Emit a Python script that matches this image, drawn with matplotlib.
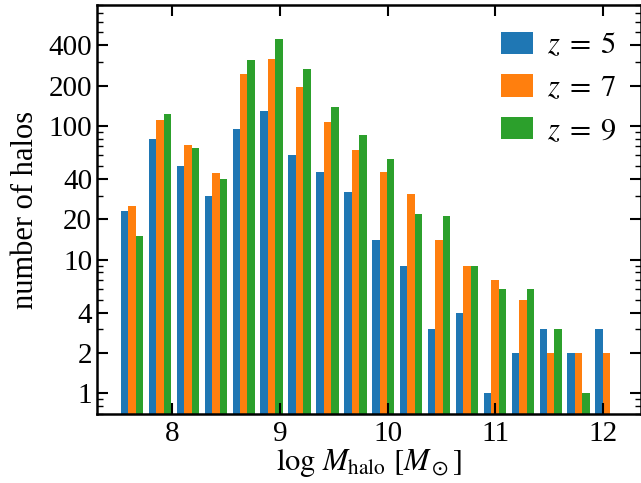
import matplotlib
matplotlib.use("Agg")
import matplotlib.pyplot as plt
import numpy as np
from matplotlib.ticker import FixedLocator, LogLocator, NullFormatter

plt.rcParams['font.family'] = ['Liberation Serif', 'DejaVu Serif']
plt.rcParams['mathtext.fontset'] = 'stix'

# bin edges in log halo mass, counts per bin for each redshift
bin_edges = np.linspace(7.5, 12.16, 19)
counts_z5 = [23, 80, 50, 30, 94, 128, 60, 45, 32, 14, 9, 3, 4, 1, 2, 3, 2, 3]
counts_z7 = [25, 110, 72, 44, 243, 315, 194, 106, 66, 45, 31, 14, 9, 7, 5, 2, 2, 2]
counts_z9 = [15, 122, 68, 40, 309, 444, 264, 137, 86, 56, 22, 21, 9, 6, 6, 3, 1, 0]
labels = [r'$z\;=\;5$', r'$z\;=\;7$', r'$z\;=\;9$']
colors = ['#1f77b4', '#ff7f0e', '#2ca02c']
yticks = [1, 2, 4, 10, 20, 40, 100, 200, 400]

centers = 0.5 * (bin_edges[:-1] + bin_edges[1:])

fig = plt.figure(figsize=(6.41, 4.83), dpi=100)
ax = fig.add_axes([0.1513, 0.1429, 0.8487, 0.8468])

ax.hist([centers, centers, centers], bins=bin_edges,
        weights=[counts_z5, counts_z7, counts_z9],
        color=colors, label=labels, log=True)

ax.set_xlim(7.304, 12.35)
ax.set_ylim(0.7, 800)
ax.set_yscale('log')
ax.yaxis.set_major_locator(FixedLocator(yticks))
ax.set_yticklabels([str(t) for t in yticks])
ax.yaxis.set_minor_locator(LogLocator(base=10, subs=np.arange(1, 10)))
ax.yaxis.set_minor_formatter(NullFormatter())
ax.set_xticks([8, 9, 10, 11, 12])

ax.tick_params(which='both', direction='in', top=True, right=True, labelsize=21)
ax.tick_params(which='major', length=8, width=1.5)
ax.tick_params(which='minor', length=4, width=1.0)
ax.tick_params(axis='x', which='minor', bottom=False, top=False)
ax.tick_params(axis='x', pad=5)
for s in ax.spines.values():
    s.set_linewidth(1.8)

ax.set_xlabel(r'$\log\,M_{\rm halo}\ [M_\odot]$', fontsize=22, labelpad=0)
ax.set_ylabel('number of halos', fontsize=22, labelpad=6)

ax.legend(loc='upper right', frameon=False, fontsize=22,
          handlelength=1.05, handleheight=0.75, handletextpad=0.45,
          labelspacing=0.45, borderaxespad=0.6, bbox_to_anchor=(1.012, 1.01))

fig.savefig('out.png', dpi=100)
